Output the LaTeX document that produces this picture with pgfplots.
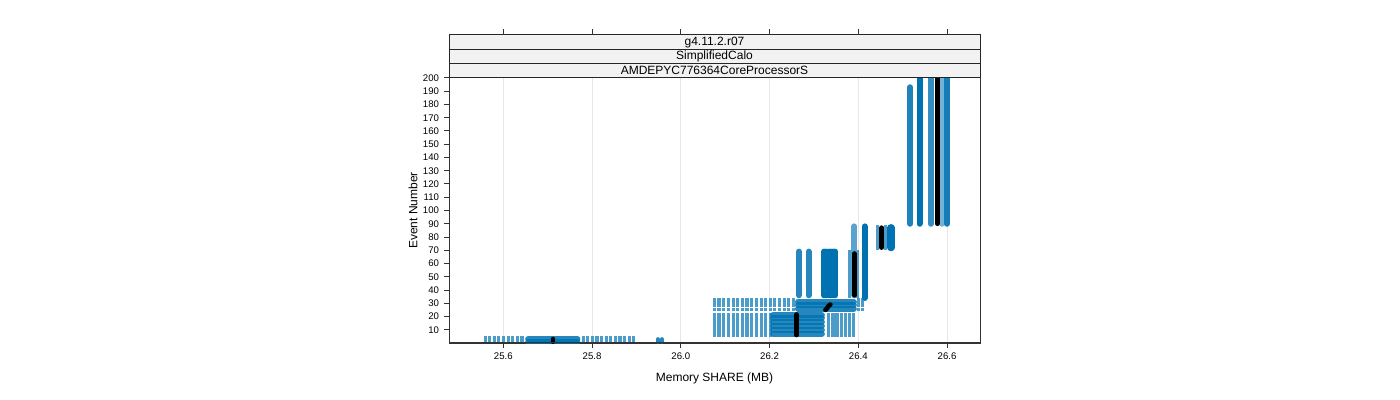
\documentclass[border=0pt]{standalone}
\usepackage{fontspec}
\setmainfont{Liberation Sans}
\usepackage{pgfplots}
\pgfplotsset{compat=1.18}
\definecolor{cb}{RGB}{0,114,178}
\definecolor{stripbg}{RGB}{242,242,242}
\definecolor{gridc}{RGB}{230,230,230}
\pgfplotsset{
 stripe/.style={color=cb!70, line width=2.4pt, line cap=butt, mark=none, unbounded coords=jump, forget plot},
 col/.style={color=cb, line width=4.5pt, line cap=round, mark=none, forget plot},
 hbar/.style={color=cb, line width=4.5pt, line cap=round, mark=none, draw opacity=0.85, forget plot},
 blk/.style={color=black, line width=3.5pt, line cap=round, line join=round, mark=none, forget plot},
}
\begin{document}
\begin{tikzpicture}
\path (0,0) rectangle (1050pt,300pt);
\begin{axis}[
 name=ax, at={(336.75pt,42.75pt)}, anchor=south west,
 width=398.25pt, height=198.75pt, scale only axis,
 xmin=25.4776, xmax=26.6743, ymin=0, ymax=200,
 xtick={25.6,25.8,26.0,26.2,26.4,26.6},
 xticklabels={25.6,25.8,26.0,26.2,26.4,26.6},
 ytick={10,20,...,200},
 xtick pos=bottom, ytick pos=left,
 tick align=outside, major tick length=4pt,
 tick style={black!80, line width=0.75pt},
 axis line style={black!80, line width=0.75pt},
 tick label style={font=\fontsize{7.2}{8}\selectfont},
 /pgf/number format/assume math mode=true,
 xmajorgrids, major x grid style={gridc, line width=0.75pt},
 clip marker paths=true,
 xlabel={Memory SHARE (MB)}, ylabel={Event Number},
 every axis x label/.style={at={(axis description cs:0.5,-0.132)}, anchor=center, font=\fontsize{9}{10}\selectfont},
 every axis y label/.style={at={(axis description cs:-0.0678,0.5)}, rotate=90, anchor=center, font=\fontsize{9}{10}\selectfont},
]
% bottom band: sparse runs (events 1-3)
\addplot[stripe] coordinates {
(25.559,0) (25.559,5) (25.559,nan) (25.569,0) (25.569,5) (25.569,nan) (25.580,0) (25.580,5) (25.580,nan)
(25.590,0) (25.590,5) (25.590,nan) (25.601,0) (25.601,5) (25.601,nan) (25.611,0) (25.611,5) (25.611,nan)
(25.621,0) (25.621,5) (25.621,nan) (25.632,0) (25.632,5) (25.632,nan) (25.642,0) (25.642,5) (25.642,nan)
(25.780,0) (25.780,5) (25.780,nan) (25.790,0) (25.790,5) (25.790,nan) (25.801,0) (25.801,5) (25.801,nan)
(25.811,0) (25.811,5) (25.811,nan) (25.822,0) (25.822,5) (25.822,nan) (25.832,0) (25.832,5) (25.832,nan)
(25.842,0) (25.842,5) (25.842,nan) (25.853,0) (25.853,5) (25.853,nan) (25.863,0) (25.863,5) (25.863,nan)
(25.874,0) (25.874,5) (25.874,nan) (25.884,0) (25.884,5) (25.884,nan) (25.894,0) (25.894,5)
};
\addplot[col, color=cb!85, line width=2.8pt] coordinates {(25.948,1) (25.948,3)};
\addplot[col, color=cb!85, line width=2.8pt] coordinates {(25.957,1) (25.957,3)};
% block A (events 4-22) sparse stripes
\addplot[stripe] coordinates {
(26.076,4.8) (26.076,22.5) (26.076,nan) (26.086,4.8) (26.086,22.5) (26.086,nan) (26.097,4.8) (26.097,22.5) (26.097,nan)
(26.107,4.8) (26.107,22.5) (26.107,nan) (26.118,4.8) (26.118,22.5) (26.118,nan) (26.128,4.8) (26.128,22.5) (26.128,nan)
(26.139,4.8) (26.139,22.5) (26.139,nan) (26.149,4.8) (26.149,22.5) (26.149,nan) (26.160,4.8) (26.160,22.5) (26.160,nan)
(26.170,4.8) (26.170,22.5) (26.170,nan) (26.181,4.8) (26.181,22.5) (26.181,nan) (26.191,4.8) (26.191,22.5) (26.191,nan)
(26.202,4.8) (26.202,22.5) (26.202,nan)
(26.333,4.8) (26.333,22.5) (26.333,nan) (26.343,4.8) (26.343,22.5) (26.343,nan) (26.352,4.8) (26.352,22.5) (26.352,nan)
(26.362,4.8) (26.362,22.5) (26.362,nan) (26.371,4.8) (26.371,22.5) (26.371,nan) (26.381,4.8) (26.381,22.5) (26.381,nan)
(26.390,4.8) (26.390,22.5)
};
% block B (events 23-33) sparse dashes
\addplot[stripe] coordinates {
(26.076,23.8) (26.076,26.3) (26.076,nan) (26.086,23.8) (26.086,26.3) (26.086,nan) (26.097,23.8) (26.097,26.3) (26.097,nan)
(26.107,23.8) (26.107,26.3) (26.107,nan) (26.118,23.8) (26.118,26.3) (26.118,nan) (26.128,23.8) (26.128,26.3) (26.128,nan)
(26.139,23.8) (26.139,26.3) (26.139,nan) (26.149,23.8) (26.149,26.3) (26.149,nan) (26.160,23.8) (26.160,26.3) (26.160,nan)
(26.170,23.8) (26.170,26.3) (26.170,nan) (26.181,23.8) (26.181,26.3) (26.181,nan) (26.191,23.8) (26.191,26.3) (26.191,nan)
(26.202,23.8) (26.202,26.3) (26.202,nan) (26.212,23.8) (26.212,26.3) (26.212,nan) (26.222,23.8) (26.222,26.3) (26.222,nan)
(26.233,23.8) (26.233,26.3) (26.233,nan) (26.243,23.8) (26.243,26.3) (26.243,nan) (26.254,23.8) (26.254,26.3) (26.254,nan)
(26.400,23.8) (26.400,26.3) (26.400,nan) (26.409,23.8) (26.409,26.3) (26.409,nan)
(26.076,27.4) (26.076,33.6) (26.076,nan) (26.086,27.4) (26.086,33.6) (26.086,nan) (26.097,27.4) (26.097,33.6) (26.097,nan)
(26.107,27.4) (26.107,33.6) (26.107,nan) (26.118,27.4) (26.118,33.6) (26.118,nan) (26.128,27.4) (26.128,33.6) (26.128,nan)
(26.139,27.4) (26.139,33.6) (26.139,nan) (26.149,27.4) (26.149,33.6) (26.149,nan) (26.160,27.4) (26.160,33.6) (26.160,nan)
(26.170,27.4) (26.170,33.6) (26.170,nan) (26.181,27.4) (26.181,33.6) (26.181,nan) (26.191,27.4) (26.191,33.6) (26.191,nan)
(26.202,27.4) (26.202,33.6) (26.202,nan) (26.212,27.4) (26.212,33.6) (26.212,nan) (26.222,27.4) (26.222,33.6) (26.222,nan)
(26.233,27.4) (26.233,33.6) (26.233,nan) (26.243,27.4) (26.243,33.6) (26.243,nan) (26.254,27.4) (26.254,33.6) (26.254,nan)
(26.400,27.4) (26.400,33.6) (26.400,nan) (26.409,27.4) (26.409,33.6)
};
% sparse stripes around 26.39 (events 34-70) and 26.45 (events 71-89)
\addplot[stripe] coordinates {
(26.381,34) (26.381,70) (26.381,nan) (26.397,34) (26.397,70) (26.397,nan)
(26.443,70) (26.443,89) (26.443,nan) (26.462,70) (26.462,89)
};
% dense horizontal bands
\addplot[hbar] coordinates {(25.656,1) (25.767,1)};
\addplot[hbar] coordinates {(25.656,3) (25.767,3)};
\addplot[hbar] coordinates {(26.208,7) (26.318,7)};
\addplot[hbar] coordinates {(26.208,10) (26.318,10)};
\addplot[hbar] coordinates {(26.208,13) (26.318,13)};
\addplot[hbar] coordinates {(26.208,16) (26.318,16)};
\addplot[hbar] coordinates {(26.208,19) (26.318,19)};
\addplot[hbar] coordinates {(26.208,21) (26.318,21)};
\addplot[hbar] coordinates {(26.264,26) (26.390,26)};
\addplot[hbar] coordinates {(26.264,28.5) (26.390,28.5)};
\addplot[hbar] coordinates {(26.264,31) (26.390,31)};
% vertical columns
\addplot[col, color=cb!85] coordinates {(26.266,36) (26.266,69)};
\addplot[col, color=cb!85] coordinates {(26.288,36) (26.288,69)};
\addplot[col] coordinates {(26.323,36) (26.323,69)};
\addplot[col] coordinates {(26.328,36) (26.328,69)};
\addplot[col] coordinates {(26.333,36) (26.333,69)};
\addplot[col] coordinates {(26.338,36) (26.338,69)};
\addplot[col] coordinates {(26.343,36) (26.343,69)};
\addplot[col] coordinates {(26.348,36) (26.348,69)};
\addplot[col, color=cb!65] coordinates {(26.391,36) (26.391,88)};
\addplot[col] coordinates {(26.414,34) (26.414,88)};
\addplot[col, line width=5.5pt] coordinates {(26.474,72) (26.474,87)};
\addplot[col, color=cb!88] coordinates {(26.517,90) (26.517,193)};
\addplot[col] coordinates {(26.538,90) (26.538,200)};
\addplot[col, color=cb!80] coordinates {(26.563,90) (26.563,200)};
\addplot[col, color=cb!55] coordinates {(26.589,90) (26.589,200)};
\addplot[col, color=cb!92] coordinates {(26.600,90) (26.600,200)};
% highlighted run (black)
\addplot[blk] coordinates {(25.712,1) (25.712,3)};
\addplot[blk] coordinates {(26.261,6) (26.261,21.5)};
\addplot[blk] coordinates {(26.326,25) (26.329,26) (26.332,27.5) (26.335,28.5) (26.337,29)};
\addplot[blk] coordinates {(26.391,36) (26.391,67.5)};
\addplot[blk] coordinates {(26.453,72) (26.453,87)};
\addplot[blk] coordinates {(26.578,90) (26.578,200)};
\coordinate (t1) at (axis cs:25.6,200);
\coordinate (t2) at (axis cs:25.8,200);
\coordinate (t3) at (axis cs:26.0,200);
\coordinate (t4) at (axis cs:26.2,200);
\coordinate (t5) at (axis cs:26.4,200);
\coordinate (t6) at (axis cs:26.6,200);
\end{axis}
\draw[black!80, line width=0.75pt] (ax.south west) rectangle (ax.north east);
\draw[black!85, line width=0.75pt, fill=stripbg] (ax.north west) rectangle ([yshift=32.25pt]ax.north east);
\draw[black!85, line width=0.75pt] ([yshift=10.75pt]ax.north west) -- ([yshift=10.75pt]ax.north east);
\draw[black!85, line width=0.75pt] ([yshift=21.5pt]ax.north west) -- ([yshift=21.5pt]ax.north east);
\node[font=\fontsize{9}{10}\selectfont, inner sep=0pt] at ([yshift=5.375pt]ax.north) {AMDEPYC776364CoreProcessorS};
\node[font=\fontsize{9}{10}\selectfont, inner sep=0pt] at ([yshift=16.125pt]ax.north) {SimplifiedCalo};
\node[font=\fontsize{9}{10}\selectfont, inner sep=0pt] at ([yshift=26.875pt]ax.north) {g4.11.2.r07};
\foreach \t in {t1,t2,t3,t4,t5,t6} \draw[black!80, line width=0.75pt] ([yshift=32.25pt]\t) -- ++(0,4.5pt);
\end{tikzpicture}
\end{document}
